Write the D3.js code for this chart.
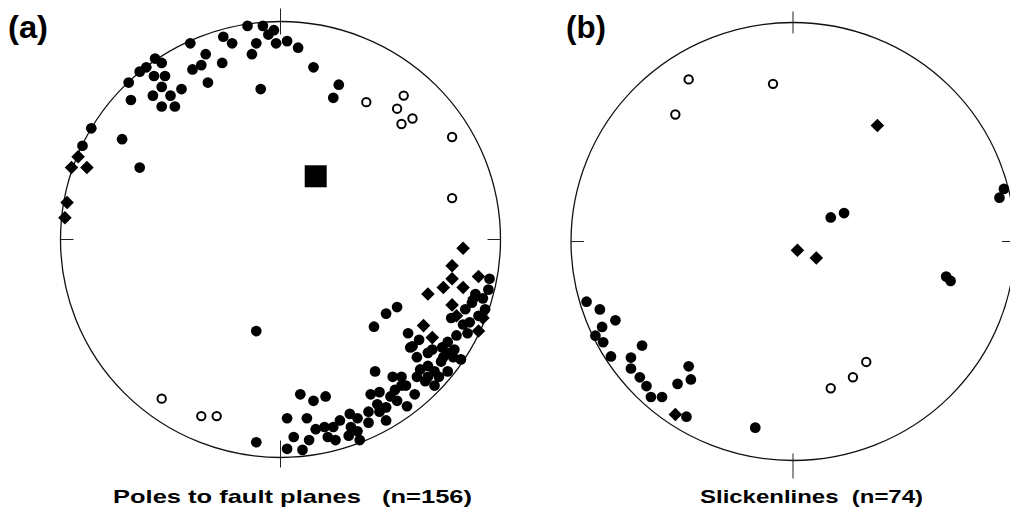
<!DOCTYPE html>
<html>
<head>
<meta charset="utf-8">
<script src="https://cdn.jsdelivr.net/npm/d3@7"></script>
<style>
  body { margin: 0; background: #fff; }
  svg { display: block; }
  text { font-family: "Liberation Sans", Arial, sans-serif; font-weight: bold; fill: #000; }
</style>
</head>
<body>
<div id="viz"></div>
<script>
// net coordinates: east / north, radius of primitive circle = 100
var panelLetters = ["(a)", "(b)"];
var captions = ["Poles to fault planes\u00a0\u00a0\u00a0(n=156)", "Slickenlines\u00a0\u00a0(n=74)"];

// (a) poles to fault planes
var polesFilled = [
  [-15,98],[-8,98],[-5.5,94],[-3,96],[-2,90],[3,91],[8,88],[-11,90],[-13,85],[-9,69],
  [-26,93],[-22,90],[-26.5,81],[-41,90],[-34,85],[-36,80],[-40,78],[-33,72],[-45,69],
  [-57,83],[-54,81],[-61,79],[-64,77],[-57.5,75],[-52.5,75],[-54,70],[-58,66],[-50,66],
  [-54,61],[-48,61],[-69,72],[-68,64],[-86,51],[-90,43],[-72,46],[-64,33],
  [15,79],[26.5,71],[24,65],[-11,-42],[-11,-93],
  [95,-18],[94.5,-23],[93,-32],[88.6,-25],[87,-29],[92,-27],[84,-32],[90,-35],[83,-39],[86,-38],
  [53,-31],[48,-34],[42.5,-40],[58,-43],[63,-46],[59,-49.5],[76,-47],[73.5,-49.5],[79,-50.5],
  [62,-54],[63.5,-59.6],[67,-63],[70,-67],[72,-63],[82,-55],[76,-52],[73,-56],
  [43,-60.5],[51,-63],[55,-63],[52,-69],[57,-67],[50,-72],[45,-70],[41,-71],[61,-71],
  [57.5,-76.5],[53,-74],[44,-75.6],[45,-79],[48,-83],[40,-84],[35,-88],[36,-92],[32,-86],
  [31.5,-80],[27,-83],[25,-92],[21.5,-90.6],[20,-86],[16,-87],[13,-92],[10,-96.5],[6,-90.6],
  [3,-96],[3,-82],[12,-82],[9,-71],[15,-74],[20.5,-72],[62,-63],[65.8,-65],[69,-50.5],[67,-52],
  [67,-58],[70,-60.5],[76,-60.5],[40,-79],[35,-82],[31,-90],[77.6,-36],[74,-54],[78.5,-54],
  [55,-67],[60,-49],[48,-77],[24,-86],[80,-44],[85,-43]
];
var polesDiamond = [
  [-92,38],[-95,33],[-88,33],[-97,17],[-98,10],
  [83,-4],[78,-12],[78,-18],[83,-22],[74,-22],[67,-25],[90,-17],[78,-30],[80,-35],
  [65,-39.5],[69,-45],[90,-42],[92,-36],[88,-27]
];
var polesOpen = [
  [39,63],[56,66],[53,60],[60,55.5],[55,53],[78,47],[78,19],[-54,-73],[-36,-81],[-29,-81]
];
var polesMean = [[16,29]];

// (b) slickenlines
var slickFilled = [
  [17,11],[23,13],[95,24],[93,20],[69,-16],[71,-18],
  [-93,-27.5],[-87,-31],[-80,-36],[-86,-39],[-89,-43],[-85.5,-46],[-82,-52.5],[-68,-47.5],
  [-73,-53],[-73,-58],[-69,-62],[-66,-66],[-64,-71],[-59,-71],[-52,-65],[-47,-57],[-46,-63],
  [-48,-80],[-17,-85]
];
var slickDiamond = [[38,53],[2,-4],[10.5,-7.5],[-53,-79]];
var slickOpen = [[-47,74],[-9,72],[-53,58],[33,-55],[27,-62],[17,-67]];

var width = 1010, height = 515;

var svg = d3.select("#viz").append("svg")
  .attr("width", width)
  .attr("height", height);

var styles = {
  open: {type: d3.symbolCircle, size: 55, fill: "none", stroke: "#000", sw: 2, rot: 0},
  filled: {type: d3.symbolCircle, size: 90, fill: "#000", stroke: "none", sw: 0, rot: 0},
  diamond: {type: d3.symbolSquare, size: 92, fill: "#000", stroke: "none", sw: 0, rot: 45},
  mean: {type: d3.symbolSquare, size: 484, fill: "#000", stroke: "none", sw: 0, rot: 0}
};

var nets = [
  {cx: 280.5, cy: 239.5, rx: 220, ry: 218, letterX: 8, captionX: 113, captionW: 359,
   series: [["open", polesOpen], ["filled", polesFilled], ["diamond", polesDiamond], ["mean", polesMean]],
   nTick: [13, 13], sTick: [17, 10]},
  {cx: 793, cy: 241.5, rx: 222, ry: 219, letterX: 566, captionX: 700, captionW: 223,
   series: [["open", slickOpen], ["filled", slickFilled], ["diamond", slickDiamond]],
   nTick: [11, 11], sTick: [7, 18]}
];

nets.forEach(function(n, i) {
  var x = d3.scaleLinear().domain([-100, 100]).range([n.cx - n.rx, n.cx + n.rx]);
  var y = d3.scaleLinear().domain([-100, 100]).range([n.cy + n.ry, n.cy - n.ry]);
  var g = svg.append("g");

  // primitive circle
  g.append("ellipse")
    .attr("cx", x(0)).attr("cy", y(0))
    .attr("rx", n.rx).attr("ry", n.ry)
    .attr("fill", "none")
    .attr("stroke", "#111")
    .attr("stroke-width", 1.3);

  // N, S, E, W tick marks
  var tk = [
    [x(0), y(100) - n.nTick[1], x(0), y(100) + n.nTick[0]],
    [x(0), y(-100) - n.sTick[0], x(0), y(-100) + n.sTick[1]],
    [x(100) - 13, y(0), x(100), y(0)],
    [x(-100), y(0), x(-100) + 13, y(0)]
  ];
  g.selectAll("line.tick").data(tk).enter().append("line")
    .attr("class", "tick")
    .attr("x1", function(d) { return d[0]; })
    .attr("y1", function(d) { return d[1]; })
    .attr("x2", function(d) { return d[2]; })
    .attr("y2", function(d) { return d[3]; })
    .attr("stroke", "#222")
    .attr("stroke-width", 1);

  n.series.forEach(function(s) {
    var st = styles[s[0]];
    g.append("g").selectAll("path").data(s[1]).enter().append("path")
      .attr("d", d3.symbol().type(st.type).size(st.size))
      .attr("transform", function(d) {
        return "translate(" + x(d[0]) + "," + y(d[1]) + ") rotate(" + st.rot + ")";
      })
      .attr("fill", st.fill)
      .attr("stroke", st.stroke)
      .attr("stroke-width", st.sw);
  });

  svg.append("text")
    .attr("x", n.letterX).attr("y", 38)
    .attr("font-size", 31)
    .attr("textLength", 40)
    .attr("lengthAdjust", "spacingAndGlyphs")
    .text(panelLetters[i]);

  svg.append("text")
    .attr("x", n.captionX).attr("y", 503)
    .attr("font-size", 19)
    .attr("textLength", n.captionW)
    .attr("lengthAdjust", "spacingAndGlyphs")
    .text(captions[i]);
});
</script>
</body>
</html>
